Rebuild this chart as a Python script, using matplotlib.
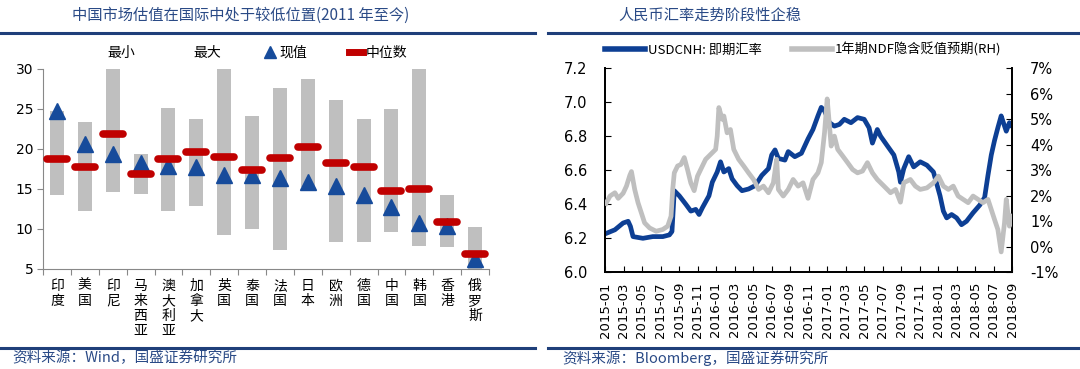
import matplotlib
matplotlib.use('Agg')
import matplotlib.pyplot as plt
from matplotlib.lines import Line2D
from matplotlib.patches import Patch
import numpy as np

plt.rcParams['font.family'] = ['Noto Sans CJK SC', 'DejaVu Sans']

# ---------------- left chart data ----------------
countries = ['印度', '美国', '印尼', '马来西亚', '澳大利亚', '加拿大', '英国', '泰国',
             '法国', '日本', '欧洲', '德国', '中国', '韩国', '香港', '俄罗斯']
val_min = [14.2, 12.2, 14.6, 14.4, 12.2, 12.9, 9.2, 10.0, 7.4, 15.3, 8.4, 8.4, 9.6, 7.9, 7.7, 5.0]
val_max = [24.8, 23.4, 30.0, 19.4, 25.1, 23.7, 30.0, 24.1, 27.6, 28.7, 26.1, 23.7, 25.0, 30.0, 14.2, 10.3]
val_now = [24.8, 20.6, 19.4, 18.3, 17.9, 17.8, 16.8, 16.8, 16.4, 15.9, 15.4, 14.2, 12.8, 10.8, 10.4, 6.3]
val_median = [18.7, 17.8, 21.9, 16.9, 18.8, 19.6, 19.0, 17.4, 18.9, 20.2, 18.3, 17.8, 14.7, 15.0, 10.9, 6.9]

# ---------------- right chart data ----------------
date_labels = ['2015-01', '2015-03', '2015-05', '2015-07', '2015-09', '2015-11',
               '2016-01', '2016-03', '2016-05', '2016-07', '2016-09', '2016-11',
               '2017-01', '2017-03', '2017-05', '2017-07', '2017-09', '2017-11',
               '2018-01', '2018-03', '2018-05', '2018-07', '2018-09']
# months since 2015-01
fx_month = [0.18, 1.07, 1.96, 2.50, 2.75, 3.03, 4.10, 5.17, 6.25, 6.96, 7.24, 7.49, 8.03,
            8.74, 9.28, 9.81, 10.17, 10.53, 11.24, 11.60, 12.13, 12.49, 12.85, 13.38,
            13.74, 14.28, 14.81, 15.52, 16.24, 16.95, 17.67, 18.02, 18.38, 18.74, 19.45,
            19.81, 20.52, 21.23, 21.95, 22.48, 23.02, 23.38, 23.73, 24.27, 24.80, 25.34,
            25.87, 26.59, 27.30, 28.02, 28.55, 28.91, 29.44, 29.80, 30.51, 31.23, 31.76,
            31.94, 32.30, 32.83, 33.37, 34.08, 34.80, 35.51, 36.22, 36.58, 36.94, 37.47,
            38.01, 38.54, 39.08, 39.79, 40.51, 41.04, 41.40, 41.76, 42.11, 42.47, 42.83,
            43.01, 43.38, 43.72, 44.00]
fx_usdcnh = [6.23, 6.25, 6.29, 6.30, 6.27, 6.21, 6.20, 6.21, 6.21, 6.22, 6.24, 6.48, 6.45,
             6.40, 6.36, 6.37, 6.34, 6.38, 6.45, 6.53, 6.59, 6.65, 6.59, 6.61,
             6.55, 6.51, 6.48, 6.49, 6.51, 6.57, 6.61, 6.69, 6.72, 6.67, 6.66,
             6.71, 6.68, 6.70, 6.785, 6.84, 6.92, 6.97, 6.95, 6.88, 6.86, 6.87,
             6.90, 6.88, 6.91, 6.90, 6.85, 6.76, 6.84, 6.80, 6.745, 6.69, 6.59,
             6.53, 6.61, 6.68, 6.62, 6.65, 6.63, 6.59, 6.45, 6.36, 6.32, 6.34,
             6.32, 6.28, 6.30, 6.35, 6.395, 6.44, 6.57, 6.69, 6.775, 6.85, 6.92,
             6.89, 6.83, 6.88, 6.86]
ndf_month = [0.11, 0.54, 1.07, 1.43, 1.96, 2.32, 2.68, 2.86, 3.21, 3.57, 3.93, 4.28, 4.82,
             5.53, 6.25, 6.78, 7.14, 7.32, 7.49, 7.85, 8.21, 8.57, 8.92, 9.28, 9.64,
             10.00, 10.53, 10.88, 11.24, 11.60, 11.96, 12.13, 12.31, 12.67, 12.85, 13.20,
             13.56, 13.92, 14.45, 14.99, 15.52, 16.06, 16.60, 17.13, 17.67, 18.20, 18.56,
             18.74, 19.27, 19.81, 20.34, 20.88, 21.41, 21.95, 22.48, 23.02, 23.38, 23.73,
             24.02, 24.27, 24.45, 24.80, 25.16, 25.70, 26.23, 26.77, 27.30, 27.84, 28.37,
             28.91, 29.44, 30.16, 30.87, 31.41, 31.94, 32.30, 33.01, 33.55, 34.08, 34.80,
             35.51, 36.05, 36.58, 37.12, 37.65, 38.18, 38.72, 39.26, 39.79, 40.33, 40.86,
             41.40, 41.76, 42.11, 42.47, 42.83, 43.19, 43.38, 43.72, 44.00]
ndf_pct = [1.7, 1.99, 2.12, 1.9, 2.1, 2.38, 2.8, 2.95, 2.25, 1.73, 1.33, 0.94, 0.74,
           0.61, 0.68, 0.81, 1.2, 2.25, 2.9, 3.17, 3.23, 3.5, 3.03, 2.5, 2.2,
           2.77, 3.17, 3.43, 3.56, 3.69, 3.82, 4.34, 5.46, 5.0, 5.13, 4.47,
           4.6, 3.82, 3.43, 3.17, 2.9, 2.64, 2.25, 2.38, 2.12, 2.51, 3.43,
           2.25, 1.99, 2.25, 2.64, 2.38, 2.51, 1.9, 2.64, 2.9, 3.3, 4.47,
           5.8, 4.74, 3.95, 4.34, 3.82, 3.56, 3.3, 3.03, 2.9, 2.97, 3.3,
           2.9, 2.64, 2.38, 2.12, 2.25, 1.75, 2.51, 2.64, 2.38, 2.25, 2.31,
           2.51, 2.77, 2.38, 2.25, 2.38, 1.99, 1.86, 1.73, 1.99, 1.86, 1.73,
           1.86, 1.46, 1.07, 0.68, -0.2, 0.94, 1.86, 0.81, 1.2]

TITLE_C = '#2A4A86'
NUM_FONT = 'DejaVu Sans'
W, H = 1080, 369

fig = plt.figure(figsize=(10.8, 3.69), dpi=100)

def fx(px):
    return px / W

def fy(py):
    return 1 - py / H

# ---------------- left chart ----------------
ax1 = fig.add_axes([fx(43), fy(269), fx(446), 200 / H])
x = np.arange(len(countries))
ax1.bar(x, np.array(val_max) - np.array(val_min), bottom=val_min, width=0.5,
        color='#BFBFBF', zorder=1)
ax1.plot(x, val_now, ls='none', marker='^', ms=11, color='#164B9B', zorder=2)
ax1.hlines(val_median, x - 0.36, x + 0.36, colors='#C00000', lw=5.5,
           capstyle='round', zorder=3)
ax1.set_xlim(-0.5, len(countries) - 0.5)
ax1.set_ylim(5, 30)
ax1.set_yticks(np.arange(5, 31, 5))
ax1.tick_params(axis='y', labelsize=10, length=4, color='#888888', pad=3)
for lbl in ax1.get_yticklabels():
    lbl.set_fontfamily(NUM_FONT)
ax1.set_xticks(np.arange(-0.5, len(countries), 1))
ax1.set_xticklabels([])
ax1.tick_params(axis='x', which='major', length=4, color='#888888')
ax1.set_xticks(x, minor=True)
ax1.set_xticklabels(['\n'.join(c) for c in countries], minor=True, fontsize=10,
                    va='top', linespacing=1.1)
ax1.tick_params(axis='x', which='minor', length=0, pad=7)
for s in ['top', 'right']:
    ax1.spines[s].set_visible(False)
for s in ['left', 'bottom']:
    ax1.spines[s].set_color('#888888')

h_min = Patch(facecolor='none', edgecolor='none')
h_max = Patch(facecolor='none', edgecolor='none')
h_now = Line2D([], [], ls='none', marker='^', ms=8, color='#164B9B')
h_med = Line2D([], [], color='#C00000', lw=5)
fig.legend([h_min, h_max, h_now, h_med], ['最小', '最大', '现值', '中位数'],
           ncol=4, loc='center left', bbox_to_anchor=(fx(91), fy(53)),
           frameon=False, fontsize=10, handlelength=1.0, handletextpad=0.2,
           columnspacing=3.0, borderpad=0, borderaxespad=0)

# ---------------- right chart ----------------
ax2 = fig.add_axes([fx(605), fy(272.3), fx(407), 204 / H])
ax2.plot(fx_month, fx_usdcnh, color='#0D3F94', lw=3.4, zorder=2,
         solid_joinstyle='round')
ax2.set_ylim(6.0, 7.2)
ax2.set_yticks(np.arange(6.0, 7.21, 0.2))
ax2.set_yticklabels([f'{v:.1f}' for v in np.arange(6.0, 7.21, 0.2)])
ax2.set_xlim(0, 44)
ax2.set_xticks(np.arange(0, 45, 2))
ax2.set_xticklabels(date_labels, rotation=90, fontsize=9.5)
ax2.tick_params(axis='y', direction='in', length=4, pad=13, labelsize=10.5)
ax2.tick_params(axis='x', direction='in', length=4, pad=7)
for lbl in ax2.get_yticklabels() + ax2.get_xticklabels():
    lbl.set_fontfamily(NUM_FONT)

ax3 = ax2.twinx()
ax3.plot(ndf_month, ndf_pct, color='#BFBFBF', lw=3.4, zorder=3,
         solid_joinstyle='round')
ax3.set_ylim(-1, 7)
ax3.set_yticks(np.arange(-1, 8, 1))
ax3.set_yticklabels([f'{v}%' for v in range(-1, 8)])
ax3.tick_params(axis='y', direction='in', length=4, pad=13, labelsize=10.5)
for lbl in ax3.get_yticklabels():
    lbl.set_fontfamily(NUM_FONT)
for a in (ax2, ax3):
    a.spines['top'].set_visible(False)
    for s in ['left', 'right', 'bottom']:
        a.spines[s].set_linewidth(1.3)

fig.legend([Line2D([], [], color='#0D3F94', lw=4), Line2D([], [], color='#BFBFBF', lw=4)],
           ['USDCNH: 即期汇率', '1年期NDF隐含贬值预期(RH)'],
           ncol=2, loc='center left', bbox_to_anchor=(fx(605), fy(50)),
           frameon=False, fontsize=9.5, handlelength=3.0, handletextpad=0.25,
           columnspacing=2.3, borderpad=0, borderaxespad=0)

# ---------------- titles, rules, sources ----------------
fig.text(fx(72), fy(15), '中国市场估值在国际中处于较低位置(2011 年至今)', fontsize=11,
         color=TITLE_C, style='italic', ha='left', va='center')
fig.text(fx(618), fy(15), '人民币汇率走势阶段性企稳', fontsize=11,
         color=TITLE_C, style='italic', ha='left', va='center')
for (x0, x1) in [(0, 535), (548, 1080)]:
    fig.add_artist(Line2D([fx(x0), fx(x1)], [fy(33), fy(33)], color='#1F3F7A', lw=2.2))
    fig.add_artist(Line2D([fx(x0), fx(x1)], [fy(348), fy(348)], color='#1F3F7A', lw=2.2))
fig.text(fx(12), fy(358), '资料来源：Wind，国盛证券研究所', fontsize=10.5,
         color=TITLE_C, style='italic', ha='left', va='center')
fig.text(fx(562), fy(358), '资料来源：Bloomberg，国盛证券研究所', fontsize=10.5,
         color=TITLE_C, style='italic', ha='left', va='center')

fig.savefig('out.png', dpi=100)
